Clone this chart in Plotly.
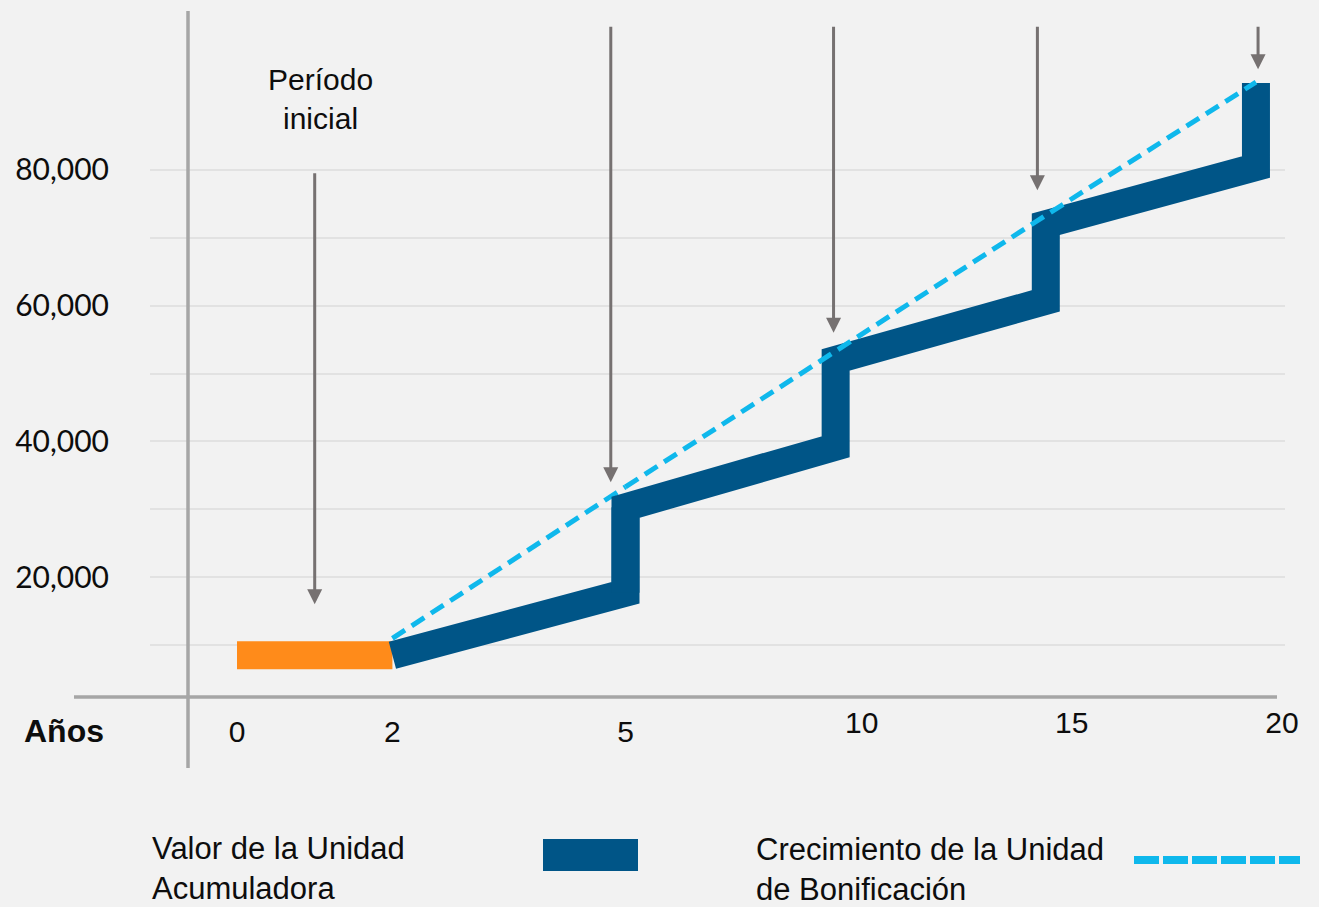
import plotly.graph_objects as go

# --- data ---
years_initial = [0, 2]
initial_values = [8500, 8500]

years_band = [2, 5, 5, 10, 10, 15, 15, 20, 20]
band_values = [8500, 17700, 30300, 39200, 52000, 60700, 72000, 80400, 92800]

years_bonus = [2, 5, 10, 15, 20]
bonus_values = [11000, 33300, 53200, 73300, 92900]

arrow_years = [4.65, 9.95, 14.8, 20.05]
arrow_tips = [34000, 56000, 77000, 94800]
initial_arrow_year = 1.0
initial_arrow_tip = 16000

y_ticks = [20000, 40000, 60000, 80000]
y_minor = [10000, 30000, 50000, 70000]
x_ticks_early = [0, 2, 5]
x_ticks_late = [10, 15, 20]

BLUE = '#005587'
ORANGE = '#FF8B1A'
CYAN = '#0FB8EC'
GREY_ARROW = '#767171'
GREY_AXIS = '#A6A6A6'
BG = '#F2F2F2'
TEXT_FONT = 'Liberation Sans, Arial, sans-serif'

# plot area in pixels (used only for placing layout decorations)
L, R, T, B = 150, 1285, 0, 697


def px(x):
    return (x - L) / (R - L)


def py(y):
    return (B - y) / (B - T)


def split(xs, ys, lo, hi):
    pts = [(x, y) for x, y in zip(xs, ys) if lo <= x <= hi]
    return [p[0] for p in pts], [p[1] for p in pts]


fig = go.Figure()

# initial period (orange)
fig.add_trace(go.Scatter(x=years_initial, y=initial_values, mode='lines',
                         line=dict(color=ORANGE, width=28), xaxis='x', yaxis='y',
                         hoverinfo='skip'))

# accumulator unit band, drawn on the early axis (2-5) and late axis (5-20)
bx, by = split(years_band, band_values, 0, 5)
fig.add_trace(go.Scatter(x=bx, y=by, mode='lines', line=dict(color=BLUE, width=28),
                         xaxis='x', yaxis='y', hoverinfo='skip'))
bx, by = split(years_band, band_values, 5, 20)
fig.add_trace(go.Scatter(x=bx, y=by, mode='lines', line=dict(color=BLUE, width=28),
                         xaxis='x2', yaxis='y', hoverinfo='skip'))

# bonus unit growth (dashed)
dx, dy = split(years_bonus, bonus_values, 0, 5)
fig.add_trace(go.Scatter(x=dx, y=dy, mode='lines', line=dict(color=CYAN, width=5, dash='15px,8px'),
                         xaxis='x', yaxis='y', hoverinfo='skip'))
dx, dy = split(years_bonus, bonus_values, 5, 20)
fig.add_trace(go.Scatter(x=dx, y=dy, mode='lines', line=dict(color=CYAN, width=5, dash='15px,8px'),
                         xaxis='x2', yaxis='y', hoverinfo='skip'))

annotations = []
# arrows
annotations.append(dict(x=initial_arrow_year, y=initial_arrow_tip, xref='x', yref='y',
                        ax=initial_arrow_year, ay=79700, axref='x', ayref='y',
                        text='', showarrow=True, arrowhead=2, arrowsize=1, arrowwidth=3,
                        arrowcolor=GREY_ARROW, standoff=0))
for yr, tip in zip(arrow_years, arrow_tips):
    annotations.append(dict(x=yr, y=tip, xref='x2', yref='y', ax=yr, ay=101300,
                            axref='x2', ayref='y', text='', showarrow=True, arrowhead=2,
                            arrowsize=1, arrowwidth=3, arrowcolor=GREY_ARROW, standoff=0))

annotations += [
    dict(x=px(320), y=py(99), xref='paper', yref='paper', text='Período<br>inicial',
         showarrow=False, xanchor='center', yanchor='middle',
         font=dict(family=TEXT_FONT, size=30, color='#0D0D0D')),
    dict(x=px(64), y=py(731), xref='paper', yref='paper', text='<b>Años</b>',
         showarrow=False, xanchor='center', yanchor='middle',
         font=dict(family=TEXT_FONT, size=32, color='#0D0D0D')),
    dict(x=px(150), y=py(868), xref='paper', yref='paper',
         text='Valor de la Unidad<br>Acumuladora', align='left',
         showarrow=False, xanchor='left', yanchor='middle',
         font=dict(family=TEXT_FONT, size=31, color='#0D0D0D')),
    dict(x=px(754), y=py(869), xref='paper', yref='paper',
         text='Crecimiento de la Unidad<br>de Bonificación', align='left',
         showarrow=False, xanchor='left', yanchor='middle',
         font=dict(family=TEXT_FONT, size=31, color='#0D0D0D')),
]

shapes = [
    # axis lines drawn like the slide
    dict(type='line', xref='paper', yref='paper', x0=px(188), x1=px(188), y0=py(11), y1=py(768),
         line=dict(color=GREY_AXIS, width=3.5)),
    dict(type='line', xref='paper', yref='paper', x0=px(74), x1=px(1277), y0=py(697), y1=py(697),
         line=dict(color=GREY_AXIS, width=3.5)),
    # legend keys
    dict(type='rect', xref='paper', yref='paper', x0=px(543), x1=px(638), y0=py(839), y1=py(871),
         line=dict(width=0), fillcolor=BLUE),
    dict(type='line', xref='paper', yref='paper', x0=px(1134), x1=px(1300), y0=py(860), y1=py(860),
         line=dict(color=CYAN, width=8, dash='25px,4px')),
]

fig.update_layout(
    width=1319, height=907,
    paper_bgcolor=BG, plot_bgcolor=BG,
    margin=dict(l=L, r=1319 - R, t=T, b=907 - B),
    showlegend=False,
    annotations=annotations,
    shapes=shapes,
    xaxis=dict(range=[-1.1197, 13.4878], tickvals=x_ticks_early, ticktext=[str(v) for v in x_ticks_early],
               showgrid=False, zeroline=False, showline=False, ticks='',
               ticklabelstandoff=14, tickfont=dict(family=TEXT_FONT, size=30, color='#0D0D0D')),
    xaxis2=dict(range=[-6.313, 20.691], overlaying='x', side='bottom', anchor='y',
                tickvals=x_ticks_late, ticktext=[str(v) for v in x_ticks_late],
                showgrid=False, zeroline=False, showline=False, ticks='',
                ticklabelstandoff=5, ticklabelshift=26,
                tickfont=dict(family=TEXT_FONT, size=30, color='#0D0D0D')),
    yaxis=dict(range=[2356, 105007], tickvals=y_ticks, tickformat=',',
               showgrid=True, gridcolor='#E2E2E2', gridwidth=1.5,
               minor=dict(tickvals=y_minor, showgrid=True, gridcolor='#E2E2E2', gridwidth=1.5),
               zeroline=False, showline=False, ticks='', ticklabelstandoff=40,
               tickfont=dict(family='Lato, Carlito, sans-serif', size=30, color='#0D0D0D')),
)

fig.write_html("out.html", config={'displayModeBar': False},
               post_script="document.body.style.margin='0';")
